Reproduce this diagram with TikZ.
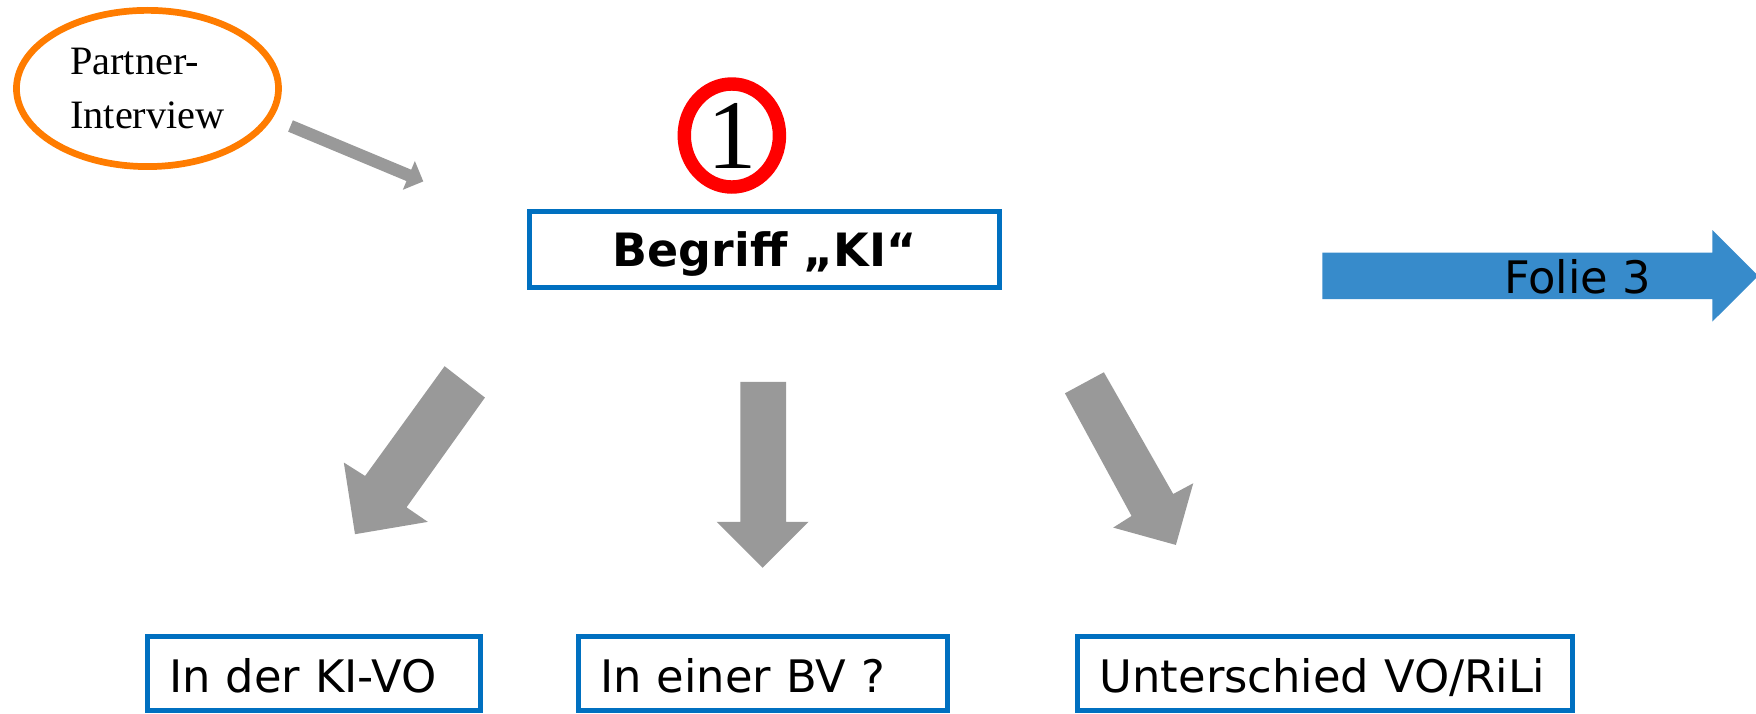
\documentclass[tikz,border=0pt]{standalone}
\usepackage{fontspec}
\newfontfamily\versans{DejaVu Sans}
\newfontfamily\garserif{Liberation Serif}
\usetikzlibrary{arrows.meta,shapes.geometric}
\definecolor{boxblue}{HTML}{0070C0}
\definecolor{arrowgray}{HTML}{999999}
\definecolor{ovalorange}{HTML}{FF7C00}
\definecolor{markred}{HTML}{FF0000}
\definecolor{foliblue}{HTML}{378BCB}
\begin{document}
\begin{tikzpicture}[x=1pt,y=-1pt,
  bluebox/.style={draw=boxblue, line width=4.5pt, rectangle, inner ysep=0pt,
    font=\versans\fontsize{40}{48}\selectfont, text height=34pt, text depth=0pt},
  itembox/.style={bluebox, align=left, inner xsep=19.5pt, minimum height=66pt},
  blockarrow/.style={fill=arrowgray, draw=none},
  thinarrow/.style={draw=arrowgray, line width=11pt,
    -{Triangle[length=14pt,width=27pt]}}
]
\useasboundingbox (0,0) rectangle (1568,636.7);

% Partner ellipse
\node[ellipse, draw=ovalorange, line width=6pt, minimum width=234pt,
  minimum height=139.5pt, inner sep=0pt, align=left,
  font=\garserif\fontsize{36}{48}\selectfont] (partner) at (131.7,79) {Partner-\\Interview};

% small arrow
\coordinate (pstart) at (259.4,112.5);
\coordinate (pend) at (378,162);
\draw[thinarrow] (pstart) -- (pend);

% red circled 1
\node[ellipse, draw=markred, line width=12pt, minimum width=85pt,
  minimum height=92pt, inner sep=0pt,
  font=\garserif\fontsize{88}{88}\selectfont] (one) at (653.5,121) {1};

% main box
\node[bluebox, minimum width=420pt, minimum height=68pt, text height=30pt,
  font=\versans\bfseries\fontsize{41}{49}\selectfont] (begriff) at (682.7,223) {Begriff „KI“};

% Folie 3 arrow
\fill[foliblue] (1180.7,225.6) -- (1529,225.6) -- (1529,205.4) -- (1570,246.3)
  -- (1529,287.2) -- (1529,267) -- (1180.7,267) -- cycle;
\node[anchor=base west, inner sep=0pt, font=\versans\fontsize{40}{48}\selectfont]
  (folie) at (1343,262.5) {Folie 3};

% block arrows
\fill[blockarrow] (397,327) -- (433,355) -- (363,453) -- (382,466) -- (317,477)
  -- (307,413) -- (326,425) -- cycle;
\fill[blockarrow] (661,341) -- (702,341) -- (702,466) -- (722,466) -- (681,507)
  -- (640,466) -- (661,466) -- cycle;
\fill[blockarrow] (950.9,351.2) -- (985.7,332.4) -- (1047.6,441.1) -- (1065.5,431.5)
  -- (1050,486.6) -- (994,471.1) -- (1010.4,460.7) -- cycle;

% bottom boxes
\node[itembox, text width=258.1pt] (kivo) at (280.25,601) {In der KI-VO};
\node[itembox, text width=290.5pt] (bv) at (681.25,601) {In einer BV ?};
\node[itembox, text width=402.5pt] (rili) at (1183.25,601) {Unterschied VO/RiLi};
\end{tikzpicture}
\end{document}
